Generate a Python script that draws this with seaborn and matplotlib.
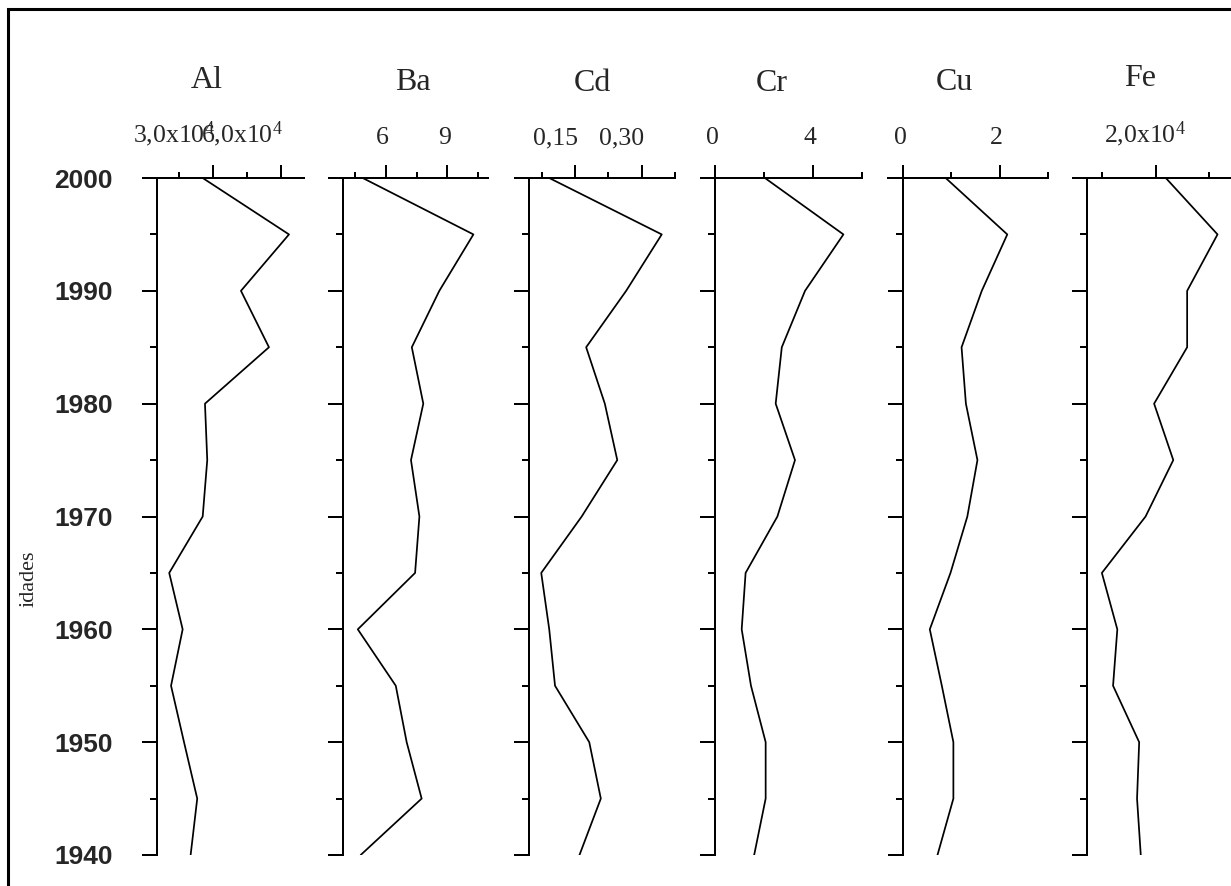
import matplotlib
matplotlib.use("Agg")
import matplotlib.pyplot as plt
import seaborn as sns
import pandas as pd
from matplotlib.transforms import ScaledTranslation
from matplotlib.patches import Rectangle

# ---------------- data ----------------
years = [2000, 1995, 1990, 1985, 1980, 1975, 1970, 1965, 1960, 1955, 1950, 1945, 1940]
al = [25600, 63500, 42400, 54700, 26600, 27600, 25600, 10900, 16800, 11700, 17400, 23200, 20300]
ba = [4.88, 10.27, 8.61, 7.27, 7.83, 7.23, 7.64, 7.43, 4.64, 6.49, 7.02, 7.75, 4.78]
cd = [0.092, 0.345, 0.265, 0.175, 0.217, 0.245, 0.165, 0.074, 0.092, 0.105, 0.182, 0.208, 0.160]
cr = [2.04, 5.25, 3.68, 2.73, 2.48, 3.27, 2.55, 1.25, 1.09, 1.47, 2.07, 2.07, 1.60]
cu = [0.88, 2.16, 1.63, 1.21, 1.30, 1.54, 1.33, 0.98, 0.55, 0.80, 1.04, 1.04, 0.71]
fe = [21900, 31600, 25900, 25900, 19700, 23300, 18100, 9900, 12800, 12000, 16900, 16500, 17200]

elements = ["Al", "Ba", "Cd", "Cr", "Cu", "Fe"]
series = [al, ba, cd, cr, cu, fe]

major_ticks = [[30000, 60000], [6, 9], [0.15, 0.30], [0, 4], [0, 2], [20000]]
major_labels = [[r"3,0x10$^{4}$", r"6,0x10$^{4}$"], ["6", "9"], ["0,15", "0,30"],
                ["0", "4"], ["0", "2"], [r"2,0x10$^{4}$"]]
minor_ticks = [[15000, 45000], [4.5, 7.5, 10.5], [0.075, 0.225, 0.375], [2, 6], [1, 3], [10000, 30000]]
year_major = [1940, 1950, 1960, 1970, 1980, 1990, 2000]
year_minor = [1945, 1955, 1965, 1975, 1985, 1995]
ylabel = "idades"

# ---------------- layout ----------------
xlims = [(0, 70000), (3.35, 11.0), (0.015, 0.3755), (-0.57, 6.01), (-0.31, 3.01), (4860, 40000)]
spine_pos = [5500, 3.9, 0.047, 0, 0, 7200]
px_lr = [(144.4, 303.8), (331.3, 488.4), (515.0, 675.3), (701.1, 862.0), (888.4, 1048.2), (1075.0, 1262.3)]
label_dx = [-39, -3, -20, -3, -3, -11]
title_pos = [(207, 88), (413, 90), (592, 91), (772, 91), (954, 90), (1140, 86)]

W, H = 1231, 886
TOP, BOT = 178, 855

sns.set_theme(style="white")
plt.rcParams["font.family"] = ["Liberation Serif", "DejaVu Serif"]
plt.rcParams["mathtext.fontset"] = "custom"
plt.rcParams["mathtext.rm"] = "Liberation Serif"
plt.rcParams["mathtext.default"] = "regular"

fig = plt.figure(figsize=(W / 100, H / 100), dpi=100)
fig.patch.set_facecolor("white")

LW = 1.44
for i, name in enumerate(elements):
    l, r = px_lr[i]
    ax = fig.add_axes([l / W, (H - BOT) / H, (r - l) / W, (BOT - TOP) / H])
    ax.patch.set_alpha(0)
    df = pd.DataFrame({"idade": years, "valor": series[i]})
    sns.lineplot(data=df, x="valor", y="idade", sort=False, estimator=None,
                 color="black", linewidth=1.25, ax=ax, legend=False)
    ax.set_xlim(*xlims[i])
    ax.set_ylim(1940, 2000)
    ax.set_xlabel("")
    ax.set_ylabel("")
    ax.grid(False)

    for s in ["right", "bottom"]:
        ax.spines[s].set_visible(False)
    ax.spines["left"].set_position(("data", spine_pos[i]))
    for s in ["left", "top"]:
        ax.spines[s].set_linewidth(LW)
        ax.spines[s].set_color("black")

    ax.xaxis.tick_top()
    ax.set_xticks(major_ticks[i], major_labels[i])
    ax.set_xticks(minor_ticks[i], minor=True)
    ax.set_yticks(year_major, [str(y) for y in year_major])
    ax.set_yticks(year_minor, minor=True)

    ax.tick_params(axis="x", which="major", direction="out", length=9.6, width=LW,
                   pad=11.3, labelsize=18.5, top=True, bottom=False,
                   labeltop=True, labelbottom=False, color="black")
    ax.tick_params(axis="x", which="minor", direction="out", length=4.3, width=LW,
                   top=True, bottom=False, color="black")
    ax.tick_params(axis="y", which="major", direction="out", length=10.8, width=LW,
                   pad=21, left=True, right=False, labelleft=(i == 0), color="black")
    ax.tick_params(axis="y", which="minor", direction="out", length=5.0, width=LW,
                   left=True, right=False, color="black")
    for lab in ax.get_yticklabels():
        lab.set_fontfamily("Liberation Sans")
        lab.set_fontweight("bold")
        lab.set_fontsize(19)

    off = ScaledTranslation(label_dx[i] / 100, 0, fig.dpi_scale_trans)
    for t in ax.xaxis.get_major_ticks():
        t.label2.set_transform(t.label2.get_transform() + off)

    tx, ty = title_pos[i]
    fig.text(tx / W, (H - ty) / H, name, ha="center", va="baseline", fontsize=23,
             family="Liberation Serif")

fig.text(29 / W, (H - 579) / H, ylabel, rotation=90, ha="center", va="center",
         fontsize=16, family="Liberation Serif")

fig.add_artist(Rectangle((8 / W, -0.5), 2.0, 0.5 + (H - 9) / H, transform=fig.transFigure,
                         fill=False, edgecolor="black", linewidth=2.2))

fig.savefig("out.png", dpi=100)
